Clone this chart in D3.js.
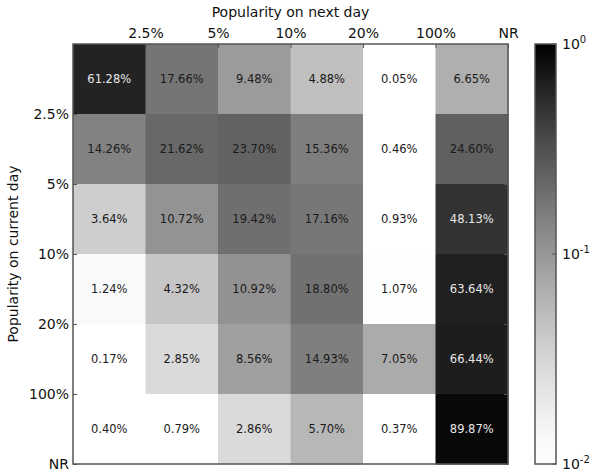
<!DOCTYPE html>
<html>
<head>
<meta charset="utf-8">
<script src="https://cdn.jsdelivr.net/npm/d3@7"></script>
<style>
  body { margin: 0; background: #fff; }
  text { font-family: "DejaVu Sans", Verdana, sans-serif; }
</style>
</head>
<body>
<svg id="chart"></svg>
<script>
// bins (rows = current day, columns = next day)
const nextDayLabels = ["2.5%", "5%", "10%", "20%", "100%", "NR"];
const currentDayLabels = ["2.5%", "5%", "10%", "20%", "100%", "NR"];

// percentages, one array per row
const row1 = [61.28, 17.66, 9.48, 4.88, 0.05, 6.65];
const row2 = [14.26, 21.62, 23.70, 15.36, 0.46, 24.60];
const row3 = [3.64, 10.72, 19.42, 17.16, 0.93, 48.13];
const row4 = [1.24, 4.32, 10.92, 18.80, 1.07, 63.64];
const row5 = [0.17, 2.85, 8.56, 14.93, 7.05, 66.44];
const row6 = [0.40, 0.79, 2.86, 5.70, 0.37, 89.87];
const rows = [row1, row2, row3, row4, row5, row6];

const colorbarTicks = [1, 0.1, 0.01];

const W = 590, H = 475;
const margin = { top: 44, left: 73, right: 82, bottom: 11 };
const width = W - margin.left - margin.right;
const height = H - margin.top - margin.bottom;

const svg = d3.select('#chart').attr('width', W).attr('height', H);

const cells = [];
rows.forEach((r, i) => r.forEach((v, j) => cells.push({ row: i, col: j, value: v })));

const x = d3.scaleBand().domain(d3.range(6)).range([0, width]);
const y = d3.scaleBand().domain(d3.range(6)).range([0, height]);

// log scale 1e-2 .. 1e0, reversed gray
const logT = d3.scaleLog().domain([0.01, 1]).range([0, 1]).clamp(true);
const grayOf = p => {
  const g = Math.round(255 * (1 - Math.pow(logT(p), 1.3)));
  return d3.rgb(g, g, g).toString();
};

const chart = svg.append('g').attr('transform', `translate(${margin.left},${margin.top})`);

chart.selectAll('rect.cell')
  .data(cells)
  .join('rect')
  .attr('class', 'cell')
  .attr('x', d => x(d.col))
  .attr('y', d => y(d.row))
  .attr('width', x.bandwidth() + 0.5)
  .attr('height', y.bandwidth() + 0.5)
  .attr('fill', d => grayOf(d.value / 100));

chart.selectAll('text.val')
  .data(cells)
  .join('text')
  .attr('class', 'val')
  .attr('x', d => x(d.col) + x.bandwidth() / 2)
  .attr('y', d => y(d.row) + y.bandwidth() / 2)
  .attr('dy', '0.35em')
  .attr('text-anchor', 'middle')
  .style('font-size', '11.5px')
  .attr('fill', d => d.value > 30 ? '#e8e8e8' : '#1a1a1a')
  .text(d => d.value.toFixed(2) + '%');

// boundary scales for tick labels
const xb = d3.scalePoint().domain(nextDayLabels).range([x.bandwidth(), width]);
const yb = d3.scalePoint().domain(currentDayLabels).range([y.bandwidth(), height]);

const axisColor = '#555';

const topAxis = chart.append('g')
  .call(d3.axisTop(xb).tickSizeInner(-4).tickSizeOuter(0).tickPadding(6));
topAxis.select('.domain').remove();
topAxis.selectAll('line').attr('stroke', axisColor);
topAxis.selectAll('text').style('font-size', '14px').attr('fill', '#111');

const leftAxis = chart.append('g')
  .call(d3.axisLeft(yb).tickSizeInner(-4).tickSizeOuter(0).tickPadding(4));
leftAxis.select('.domain').remove();
leftAxis.selectAll('line').attr('stroke', axisColor);
leftAxis.selectAll('text').style('font-size', '14px').attr('fill', '#111');

// right side mirrored ticks
chart.append('g')
  .attr('transform', `translate(${width},0)`)
  .call(d3.axisRight(yb).tickSize(-4).tickFormat(''))
  .call(g => g.select('.domain').remove())
  .selectAll('line').attr('stroke', axisColor);

// box
chart.append('rect')
  .attr('width', width).attr('height', height)
  .attr('fill', 'none').attr('stroke', axisColor).attr('stroke-width', 1.5);

// titles
svg.append('text')
  .attr('x', margin.left + width / 2).attr('y', 17)
  .attr('text-anchor', 'middle')
  .style('font-size', '14px').attr('fill', '#111')
  .text('Popularity on next day');

svg.append('text')
  .attr('transform', `translate(18,${margin.top + height / 2}) rotate(-90)`)
  .attr('text-anchor', 'middle')
  .style('font-size', '14px').attr('fill', '#111')
  .text('Popularity on current day');

// colorbar
const cb = { x: 535, w: 21 };
const cbScale = d3.scaleLog().domain([0.01, 1]).range([height, 0]);

const grad = svg.append('defs').append('linearGradient')
  .attr('id', 'cbgrad').attr('x1', 0).attr('y1', 1).attr('x2', 0).attr('y2', 0);
d3.range(0, 1.0001, 0.05).forEach(t => {
  grad.append('stop')
    .attr('offset', t)
    .attr('stop-color', grayOf(Math.pow(10, -2 + 2 * t)));
});

const cbg = svg.append('g').attr('transform', `translate(${cb.x},${margin.top})`);
cbg.append('rect')
  .attr('width', cb.w).attr('height', height)
  .attr('fill', 'url(#cbgrad)')
  .attr('stroke', axisColor).attr('stroke-width', 1.5);

cbg.selectAll('line.cbtick')
  .data(colorbarTicks)
  .join('line')
  .attr('class', 'cbtick')
  .attr('x1', cb.w - 4).attr('x2', cb.w)
  .attr('y1', d => cbScale(d)).attr('y2', d => cbScale(d))
  .attr('stroke', axisColor);

const cbLabels = cbg.selectAll('text.cblab')
  .data(colorbarTicks)
  .join('text')
  .attr('class', 'cblab')
  .attr('x', cb.w + 6)
  .attr('y', d => cbScale(d) + 5)
  .style('font-size', '14px').attr('fill', '#111');
cbLabels.append('tspan').text('10');
cbLabels.append('tspan')
  .attr('dy', '-0.6em').style('font-size', '10px')
  .text(d => Math.round(Math.log10(d)));
</script>
</body>
</html>
